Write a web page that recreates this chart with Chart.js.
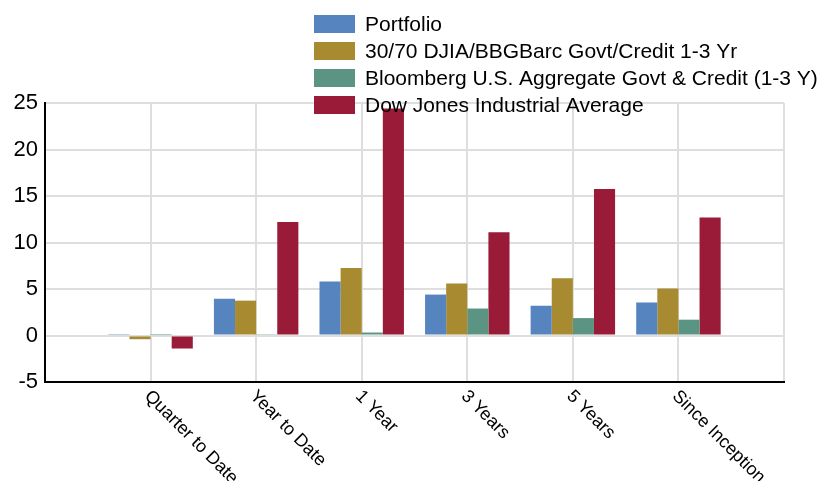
<!DOCTYPE html>
<html>
<head>
<meta charset="utf-8">
<script src="https://cdn.jsdelivr.net/npm/chart.js@4"></script>
<style>
  html, body { margin: 0; padding: 0; background: #fff; }
  #wrap { width: 822px; height: 481px; position: relative; }
</style>
</head>
<body>
<div id="wrap"><canvas id="returnsChart"></canvas></div>
<script>
// empty slots at both ends so the groups sit on the grid lines like the original
const categories = ['', 'Quarter to Date', 'Year to Date', '1 Year', '3 Years', '5 Years', 'Since Inception', ''];
const portfolio = [null, 0.15, 3.95, 5.8, 4.4, 3.2, 3.55, null];
const blend3070 = [null, -0.4, 3.75, 7.25, 5.6, 6.15, 5.05, null];
const bbgGovtCredit = [null, 0.05, 0.14, 0.32, 2.9, 1.87, 1.7, null];
const djia = [null, -1.4, 12.2, 24.4, 11.1, 15.75, 12.7, null];
const yTicks = [-5, 0, 5, 10, 15, 20, 25];

const seriesNames = [
  'Portfolio',
  '30/70 DJIA/BBGBarc Govt/Credit 1-3 Yr',
  'Bloomberg U.S. Aggregate Govt & Credit (1-3 Y)',
  'Dow Jones Industrial Average'
];
const seriesColors = ['#5584be', '#a88a30', '#5b9483', '#991b37'];

const FONT = 'Arial, "Liberation Sans", sans-serif';

// x labels run down to the right, which the built-in ticks can't do
const slantedLabels = {
  id: 'slantedLabels',
  afterDraw(chart) {
    const ctx = chart.ctx;
    const xs = chart.scales.x;
    ctx.save();
    ctx.fillStyle = '#000';
    ctx.font = '18px ' + FONT;
    ctx.textAlign = 'left';
    ctx.textBaseline = 'top';
    categories.forEach((lab, i) => {
      if (!lab) return;
      const x = xs.getPixelForTick(i);
      ctx.save();
      ctx.translate(x + 3, xs.top + 5);
      ctx.rotate(Math.PI / 4);
      ctx.fillText(lab, 0, 0);
      ctx.restore();
    });
    ctx.restore();
  }
};

// legend sits over the top of the plot, no background
const overlayLegend = {
  id: 'overlayLegend',
  afterDraw(chart) {
    const ctx = chart.ctx;
    ctx.save();
    ctx.font = '21px ' + FONT;
    ctx.textBaseline = 'middle';
    ctx.textAlign = 'left';
    chart.data.datasets.forEach((ds, i) => {
      const y = 24 + i * 27;
      ctx.fillStyle = ds.backgroundColor;
      ctx.fillRect(314, y - 9, 41, 18);
      ctx.fillStyle = '#000';
      ctx.fillText(ds.label, 365, y + 1);
    });
    ctx.restore();
  }
};

const datasets = [portfolio, blend3070, bbgGovtCredit, djia].map((vals, i) => ({
  label: seriesNames[i],
  data: vals,
  backgroundColor: seriesColors[i],
  borderWidth: 0,
  categoryPercentage: 0.8,
  barPercentage: 1.0
}));

new Chart(document.getElementById('returnsChart'), {
  type: 'bar',
  data: { labels: categories, datasets: datasets },
  options: {
    responsive: true,
    maintainAspectRatio: false,
    animation: false,
    layout: { padding: { top: 103, right: 38, left: 0, bottom: 0 } },
    plugins: {
      legend: { display: false },
      tooltip: { enabled: false }
    },
    scales: {
      x: {
        offset: false,
        grid: { color: '#dedede', lineWidth: 2, drawTicks: false, offset: false },
        border: { color: '#000', width: 2 },
        ticks: { display: false },
        afterFit(scale) { scale.height = 99; }
      },
      y: {
        min: yTicks[0],
        max: yTicks[yTicks.length - 1],
        afterBuildTicks(scale) { scale.ticks = yTicks.map(v => ({ value: v })); },
        grid: { color: '#dedede', lineWidth: 2, drawTicks: false },
        border: { color: '#000', width: 2 },
        ticks: {
          color: '#000',
          padding: 7,
          font: { family: FONT, size: 22 }
        },
        afterFit(scale) { scale.width = 45; }
      }
    }
  },
  plugins: [slantedLabels, overlayLegend]
});
</script>
</body>
</html>
